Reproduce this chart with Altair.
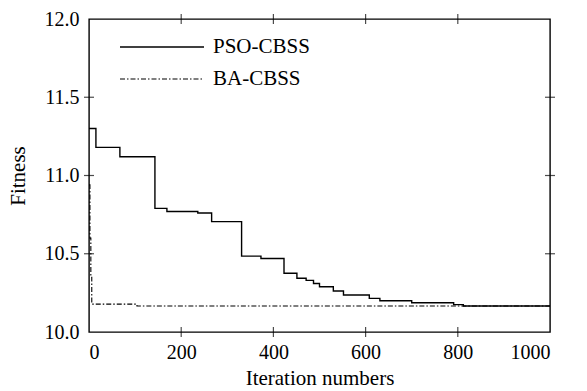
import altair as alt
import pandas as pd

# Best fitness per iteration (step changes only)
pso_iter = [0, 15, 67, 143, 169, 236, 266, 331, 373, 423, 451, 471, 487, 500, 530, 552, 608, 631, 700, 791, 812, 1000]
pso_fit = [11.30, 11.18, 11.12, 10.79, 10.77, 10.76, 10.705, 10.485, 10.47, 10.375, 10.343, 10.33, 10.31, 10.289,
           10.262, 10.236, 10.215, 10.200, 10.187, 10.175, 10.166, 10.166]

ba_iter = [0, 2, 4, 6, 104, 1000]
ba_fit = [10.94, 10.60, 10.35, 10.178, 10.166, 10.166]

series_names = ["PSO-CBSS", "BA-CBSS"]

x_ticks = [0, 200, 400, 600, 800, 1000]
y_ticks = [10.0, 10.5, 11.0, 11.5, 12.0]

W, H = 461, 313
FONT = "Liberation Serif"
DASH = [5, 2, 1.5, 2]

pso = pd.DataFrame({"iter": pso_iter, "fit": pso_fit})
ba = pd.DataFrame({"iter": ba_iter, "fit": ba_fit})

xs = alt.Scale(domain=[0, 1000], nice=False)
ys = alt.Scale(domain=[10.0, 12.0], nice=False)

axis_style = dict(grid=False, domain=False, ticks=False, labelFontSize=20, titleFontSize=21,
                  labelFont=FONT, titleFont=FONT, labelColor="black", titleColor="black",
                  titleFontWeight="normal")
x_axis = alt.Axis(values=x_ticks, format="d", title="Iteration numbers",
                  labelPadding=10, titlePadding=5, **axis_style)
y_axis = alt.Axis(values=y_ticks, format=".1f", title="Fitness",
                  labelPadding=10, titlePadding=16, **axis_style)

ba_line = alt.Chart(ba).mark_line(interpolate="step-after", color="black", strokeWidth=1.1,
                                  strokeDash=DASH).encode(
    x=alt.X("iter:Q", scale=xs, axis=x_axis),
    y=alt.Y("fit:Q", scale=ys, axis=y_axis),
)
pso_line = alt.Chart(pso).mark_line(interpolate="step-after", color="black", strokeWidth=1.4).encode(
    x=alt.X("iter:Q", scale=xs),
    y=alt.Y("fit:Q", scale=ys),
)

# Inward tick marks on all four sides
xt = pd.DataFrame({"v": x_ticks[1:-1]})
yt = pd.DataFrame({"v": y_ticks[1:-1]})
tick_len = 5
tick_kw = dict(color="black", size=tick_len * 2, thickness=1.2)
bottom_ticks = alt.Chart(xt).mark_tick(orient="vertical", **tick_kw).encode(
    x=alt.X("v:Q", scale=xs), y=alt.value(H))
top_ticks = alt.Chart(xt).mark_tick(orient="vertical", **tick_kw).encode(
    x=alt.X("v:Q", scale=xs), y=alt.value(0))
left_ticks = alt.Chart(yt).mark_tick(orient="horizontal", **tick_kw).encode(
    y=alt.Y("v:Q", scale=ys), x=alt.value(0))
right_ticks = alt.Chart(yt).mark_tick(orient="horizontal", **tick_kw).encode(
    y=alt.Y("v:Q", scale=ys), x=alt.value(W))

# Legend (one row per series)
leg_pso = pd.DataFrame({"name": [series_names[0]]})
leg_ba = pd.DataFrame({"name": [series_names[1]]})
leg_pso_line = alt.Chart(leg_pso).mark_rule(color="black", strokeWidth=1.4).encode(
    x=alt.value(31), x2=alt.value(115), y=alt.value(28))
leg_ba_line = alt.Chart(leg_ba).mark_rule(color="black", strokeWidth=1.1, strokeDash=DASH).encode(
    x=alt.value(31), x2=alt.value(115), y=alt.value(60))
text_kw = dict(align="left", baseline="middle", font=FONT, fontSize=21, fontWeight="normal", color="black")
leg_pso_text = alt.Chart(leg_pso).mark_text(**text_kw).encode(
    text="name:N", x=alt.value(124), y=alt.value(28))
leg_ba_text = alt.Chart(leg_ba).mark_text(**text_kw).encode(
    text="name:N", x=alt.value(124), y=alt.value(60))

chart = alt.layer(
    ba_line, pso_line, bottom_ticks, top_ticks, left_ticks, right_ticks,
    leg_pso_line, leg_ba_line, leg_pso_text, leg_ba_text,
).properties(
    width=W, height=H,
    autosize=alt.AutoSizeParams(type="none"),
    padding={"left": 89, "top": 19, "right": 37, "bottom": 59},
    background="white",
).configure_view(stroke="black", strokeWidth=1.4)

chart.save("out.html", embed_options={"renderer": "svg", "actions": False})
